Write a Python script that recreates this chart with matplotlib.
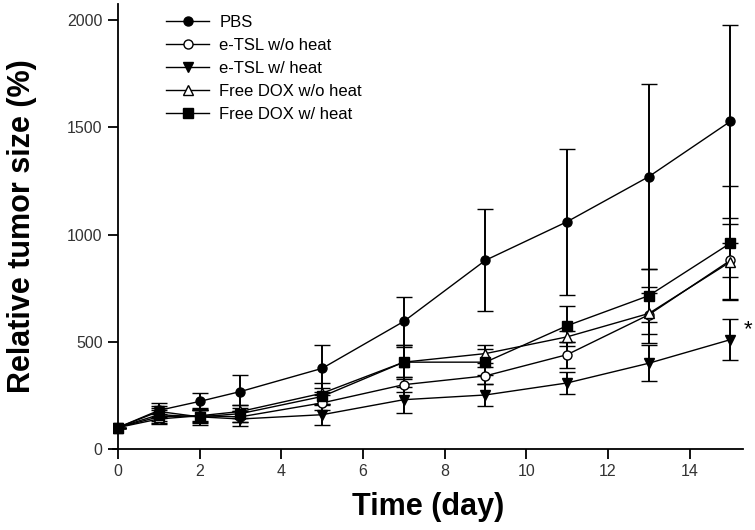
import numpy as np
import matplotlib
matplotlib.use('Agg')
import matplotlib.pyplot as plt

plt.rcParams['font.family'] = ['Liberation Sans', 'DejaVu Sans']

# Days measured
days = [0, 1, 2, 3, 5, 7, 9, 11, 13, 15]

# Relative tumor size (%) and error for each group
pbs = [100, 180, 222, 268, 376, 595, 880, 1060, 1270, 1528]
pbs_err = [0, 35, 40, 75, 110, 112, 238, 340, 430, 450]

etsl_noheat = [100, 140, 155, 150, 215, 300, 341, 440, 626, 880]
etsl_noheat_err = [0, 25, 25, 25, 35, 35, 40, 60, 130, 80]

etsl_heat = [100, 175, 150, 140, 160, 230, 252, 308, 400, 510]
etsl_heat_err = [0, 25, 30, 35, 50, 60, 50, 50, 85, 97]

dox_noheat = [100, 150, 155, 175, 260, 405, 445, 523, 632, 873]
dox_noheat_err = [0, 30, 30, 30, 50, 80, 42, 25, 95, 175]

dox_heat = [100, 160, 150, 165, 245, 405, 405, 575, 715, 960]
dox_heat_err = [0, 30, 40, 40, 40, 70, 60, 93, 125, 265]

fig = plt.figure(figsize=(7.55, 5.30), dpi=100)
ax = fig.add_axes([0.1497, 0.1528, 0.834, 0.8396])

series = [
    (pbs, pbs_err, 'PBS', 'o', 'black', 6.5),
    (etsl_noheat, etsl_noheat_err, 'e-TSL w/o heat', 'o', 'white', 6.5),
    (etsl_heat, etsl_heat_err, 'e-TSL w/ heat', 'v', 'black', 7.5),
    (dox_noheat, dox_noheat_err, 'Free DOX w/o heat', '^', 'white', 7),
    (dox_heat, dox_heat_err, 'Free DOX w/ heat', 's', 'black', 7),
]

for vals, err, lab, mk, fc, ms in series:
    ax.errorbar(days, vals, yerr=err, color='black', lw=1.0, elinewidth=1.4,
                capsize=6, capthick=1.4, marker=mk, markersize=ms,
                markerfacecolor=fc, markeredgecolor='black', markeredgewidth=1.0,
                label=lab)

# significance mark
ax.text(15.33, 555, '*', fontsize=16, ha='left', va='center', color='black')

ax.set_xlim(-0.12, 15.3)
ax.set_ylim(0, 2075)
ax.spines['top'].set_visible(False)
ax.spines['right'].set_visible(False)
ax.spines['left'].set_position(('data', 0))
ax.spines['left'].set_linewidth(1.3)
ax.spines['bottom'].set_linewidth(1.3)

ax.set_xticks(np.arange(0, 15, 2))
ax.set_yticks([0, 500, 1000, 1500, 2000])
ax.tick_params(axis='both', direction='out', length=7, width=1.3,
               labelsize=11.5, labelcolor='#333333')
ax.tick_params(axis='y', pad=4)
ax.tick_params(axis='x', pad=4)

ax.set_xlabel('Time (day)', fontsize=22, fontweight='bold', labelpad=9)
ax.set_ylabel('Relative tumor size (%)', fontsize=22, fontweight='bold', labelpad=22)

handles, labels = ax.get_legend_handles_labels()
handles = [h[0] for h in handles]
ax.legend(handles, labels, loc='upper left', bbox_to_anchor=(166 / 755, 1 - 15 / 530),
          bbox_transform=fig.transFigure, frameon=False, fontsize=12,
          borderpad=0, borderaxespad=0, handlelength=2.6, handletextpad=0.6,
          labelspacing=0.48, numpoints=1)

fig.savefig('out.png', dpi=100)
